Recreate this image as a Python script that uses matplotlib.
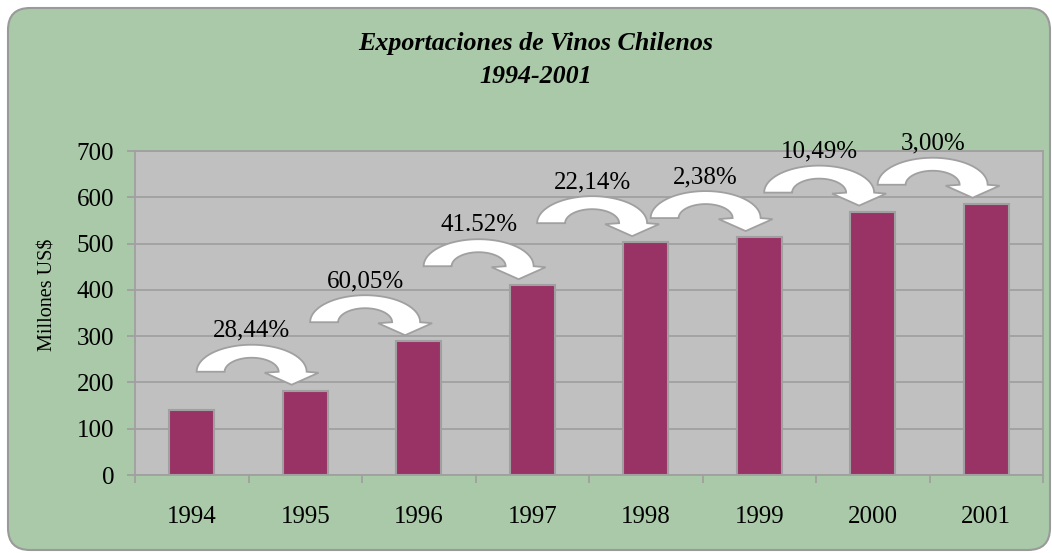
import matplotlib
matplotlib.use("Agg")
import matplotlib.pyplot as plt
import matplotlib.transforms as mtransforms
from matplotlib.patches import FancyBboxPatch, Polygon
import numpy as np

years = ["1994", "1995", "1996", "1997", "1998", "1999", "2000", "2001"]
exports = [141, 182, 289, 410, 503, 514, 569, 586]
growth = ["28,44%", "60,05%", "41.52%", "22,14%", "2,38%", "10,49%", "3,00%"]

plt.rcParams["font.family"] = ["Liberation Serif", "DejaVu Serif"]

W, H = 1052, 553
fig = plt.figure(figsize=(W / 100, H / 100), dpi=100)
fig.patch.set_facecolor("white")

# green rounded panel (pixel coords)
panel = FancyBboxPatch((8, 3), 1042, 542, boxstyle="round,pad=0,rounding_size=22",
                       transform=mtransforms.IdentityTransform(),
                       facecolor="#a9c9a9", edgecolor="#9a9a9a", linewidth=1.5,
                       zorder=-10)
fig.patches.append(panel)

ax = fig.add_axes([135 / W, (H - 475) / H, (1043 - 135) / W, (475 - 151) / H])
ax.set_facecolor("#c0c0c0")
x = np.arange(len(years))

ax.bar(x, exports, width=0.4, color="#993366", edgecolor="#a0a0a0",
       linewidth=1.5, zorder=3)

ax.set_xlim(-0.5, len(years) - 0.5)
ax.set_ylim(0, 700)
ax.set_yticks(range(0, 701, 100))
ax.yaxis.grid(True, color="#a0a0a0", linewidth=1.3, zorder=0)
ax.set_axisbelow(True)
for s in ax.spines.values():
    s.set_color("#a0a0a0")
    s.set_linewidth(1.3)

ax.set_xticks(x)
ax.set_xticklabels(years)
ax.set_xticks(np.arange(-0.5, len(years)), minor=True)
ax.tick_params(axis="x", which="major", length=0, pad=22, labelsize=18)
ax.tick_params(axis="x", which="minor", length=6, color="#a0a0a0", width=1.3)
ax.tick_params(axis="y", length=6, color="#a0a0a0", width=1.3, pad=9, labelsize=18)


def curved_arrow(tip_x, tip_y):
    # shape in pixels relative to the arrow tip
    t = np.linspace(np.pi, 0, 40)
    cx, base = -40, 13
    outer = np.column_stack([cx + 55 * np.cos(t), base + 27 * np.sin(t)])
    inner = np.column_stack([cx + 27 * np.cos(t[::-1]), base + 14 * np.sin(t[::-1])])
    head = np.array([[27, 12], [0, 0], [-27, 12]])
    verts = np.vstack([outer, head, inner])
    trans = mtransforms.ScaledTranslation(tip_x, tip_y, ax.transData)
    poly = Polygon(verts, closed=True, transform=trans, facecolor="white",
                   edgecolor="#a0a0a0", linewidth=1.3, zorder=4, clip_on=False)
    ax.add_patch(poly)


for i, label in enumerate(growth):
    tx, ty = x[i + 1] - 0.12, exports[i + 1] + 13
    curved_arrow(tx, ty)
    ax.annotate(label, xy=(tx, ty), xytext=(-40 * 0.72, 54 * 0.72),
                textcoords="offset points", ha="center", va="center",
                fontsize=18, zorder=5, annotation_clip=False)

fig.text(536 / W, 1 - 60 / H, "Exportaciones de Vinos Chilenos\n1994-2001",
         ha="center", va="center", fontsize=18.7, fontweight="bold",
         fontstyle="italic", linespacing=1.55)
fig.text(48 / W, 1 - 295 / H, "Millones US$", rotation=90,
         ha="center", va="center", fontsize=14.5)

fig.savefig("out.png", dpi=100)
